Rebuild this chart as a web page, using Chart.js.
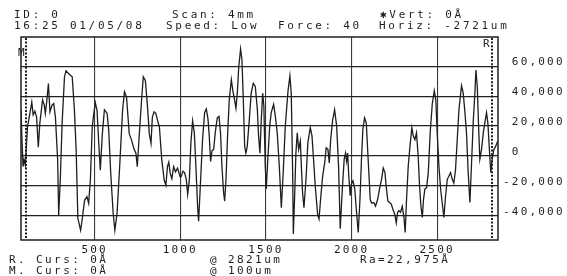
<!DOCTYPE html>
<html>
<head>
<meta charset="utf-8">
<script src="https://cdn.jsdelivr.net/npm/chart.js@4.4.0/dist/chart.umd.min.js"></script>
<style>
    html, body { margin: 0; padding: 0; background: #fff; }
</style>
</head>
<body>
<canvas id="profile" width="567" height="276"></canvas>
<script>
// Stylus profile trace: scan position (um) and height (Angstrom)
const scanX = [
    70, 76, 82, 88, 95, 108, 122, 133, 141, 151, 161, 171,
    180, 196, 206, 212, 220, 230, 239, 251, 261, 271, 284, 290,
    300, 310, 324, 333, 353, 369, 382, 392, 402, 418, 427, 441,
    455, 465, 475, 486, 494, 504, 514, 524, 533, 545, 557, 573,
    582, 594, 608, 618, 631, 647, 663, 674, 686, 702, 716, 729,
    741, 749, 761, 774, 784, 796, 808, 819, 829, 837, 847, 857,
    867, 878, 892, 906, 916, 925, 933, 941, 951, 961, 972, 984,
    1000, 1006, 1016, 1025, 1035, 1043, 1053, 1062, 1072, 1082, 1091, 1101,
    1107, 1117, 1130, 1142, 1152, 1162, 1169, 1177, 1185, 1195, 1204, 1216,
    1226, 1235, 1243, 1253, 1259, 1267, 1276, 1286, 1298, 1307, 1317, 1325,
    1333, 1341, 1352, 1360, 1368, 1376, 1383, 1391, 1403, 1414, 1426, 1438,
    1450, 1457, 1465, 1473, 1481, 1488, 1496, 1502, 1512, 1522, 1531, 1545,
    1555, 1566, 1578, 1590, 1601, 1613, 1629, 1640, 1648, 1656, 1660, 1667,
    1675, 1683, 1691, 1701, 1706, 1714, 1722, 1734, 1745, 1759, 1769, 1778,
    1788, 1802, 1810, 1819, 1831, 1843, 1852, 1862, 1870, 1878, 1889, 1901,
    1913, 1924, 1934, 1946, 1957, 1965, 1971, 1977, 1984, 1992, 1998, 2008,
    2019, 2029, 2039, 2049, 2058, 2066, 2076, 2086, 2095, 2103, 2109, 2117,
    2130, 2140, 2152, 2163, 2175, 2185, 2195, 2202, 2212, 2222, 2232, 2241,
    2253, 2261, 2269, 2276, 2286, 2296, 2306, 2313, 2321, 2331, 2341, 2352,
    2360, 2370, 2379, 2389, 2397, 2405, 2413, 2420, 2428, 2438, 2448, 2459,
    2471, 2483, 2492, 2500, 2510, 2520, 2529, 2539, 2549, 2559, 2568, 2578,
    2588, 2597, 2607, 2617, 2627, 2642, 2652, 2662, 2671, 2681, 2691, 2700,
    2710, 2720, 2726, 2734, 2743, 2749, 2759, 2769, 2778, 2788, 2796, 2806,
    2813, 2821, 2831, 2841, 2853
];
const heightA = [
    31000, 10000, -7000, -2500, -6000, 19500, 28500, 36000, 27500, 30000, 26000, 6000,
    22000, 37500, 34000, 28500, 36000, 48500, 29500, 34000, 35000, 26000, -2500, -39500,
    -14000, 22000, 53000, 57000, 54500, 53000, 30500, 4000, -41500, -49500, -42500, -29500,
    -27000, -31500, -16000, 19500, 27500, 35500, 30500, 8500, -9500, 15000, 31000, 28500,
    17500, -11500, -38000, -49500, -38000, -5000, 30500, 43000, 39500, 15000, 10500, 5000,
    2000, -7000, 15000, 37500, 53000, 50500, 34000, 15000, 8500, 26000, 29500, 28500,
    24000, 19500, -2500, -16000, -19500, -7000, -4000, -11500, -15000, -7000, -10500, -8000,
    -14000, -13500, -10000, -11000, -15500, -25500, -15500, 9000, 23500, 15500, -6500, -33500,
    -43500, -20000, 11000, 29000, 31500, 24500, 13500, -3500, 3500, 4500, 15500, 25500,
    26500, 15500, -6500, -24500, -30000, -15500, 13500, 37500, 51000, 43500, 37500, 32000,
    42000, 59000, 71500, 64500, 37500, 6500, 2000, 6500, 24500, 42000, 48500, 46500,
    31000, 13500, 2000, 24500, 42000, 33500, -6500, -22000, 0, 20000, 29000, 34500,
    26500, 15500, -6500, -34500, -11000, 20000, 43500, 53500, 42000, -11000, -52000, -29000,
    2000, 15500, 4500, 10000, -4500, -24500, -34500, -15500, 9000, 19000, 13500, -2000,
    -20000, -39000, -42000, -29000, -13500, -4500, 5500, 4500, -4500, 11000, 23500, 31000,
    20000, -6500, -48500, -22000, -2000, 2000, -3500, 2000, -13500, -26500, -19000, -16500,
    -22000, -37500, -51000, -29000, -2000, 18000, 25500, 22000, 2000, -15500, -29000, -31500,
    -31000, -33500, -29000, -22000, -15500, -8000, -11000, -20000, -30000, -31000, -32000, -35500,
    -39000, -44500, -37500, -36500, -37500, -33500, -41000, -51000, -29000, -6500, 6500, 19000,
    13500, 11000, 15500, 0, -20000, -33500, -41000, -29000, -22000, -21000, -11000, 15500,
    34500, 43500, 37500, 15500, -6500, -22000, -31000, -41000, -26500, -15500, -13500, -11000,
    -15500, -18000, -9000, 11000, 31000, 47000, 42000, 29000, 15500, -11000, -31000, -6500,
    22000, 42000, 57500, 46500, 15500, -2000, 4500, 15500, 22000, 29000, 22000, 2000,
    -11000, -2000, 4500, 6500, 10000
];

const xTicks = [500, 1000, 1500, 2000, 2500];
const xTickLabels = ['500', '1000', '1500', '2000', '2500'];
const yTicks = [-40000, -20000, 0, 20000, 40000, 60000];
const yTickLabels = ['-40,000', '-20,000', ' 0', ' 20,000', ' 40,000', ' 60,000'];

// cursor positions (um)
const cursorM = 100;
const cursorR = 2821;

const headerLine1 = ['ID: 0', 'Scan: 4mm', '\u2731Vert: 0\u00c5'];
const headerLine2 = ['16:25 01/05/08', 'Speed: Low', 'Force: 40', 'Horiz: -2721um'];
const footerLine1 = ['R. Curs: 0\u00c5', '@ 2821um', 'Ra=22,975\u00c5'];
const footerLine2 = ['M. Curs: 0\u00c5', '@ 100um'];

const MONO = '11px "DejaVu Sans Mono", "Liberation Mono", monospace';
const INK = '#1e1e1e';

const printoutPlugin = {
    id: 'printout',
    beforeDraw(chart) {
        chart.ctx.letterSpacing = '2.2px';
    },
    afterDraw(chart) {
        const { ctx, chartArea: a, scales: { x } } = chart;
        ctx.save();

        // frame
        ctx.strokeStyle = INK;
        ctx.lineWidth = 1.5;
        ctx.strokeRect(a.left, a.top, a.right - a.left, a.bottom - a.top);

        // dotted cursor lines
        ctx.lineWidth = 2;
        ctx.setLineDash([2, 1.6]);
        [cursorM, cursorR].forEach(v => {
            const px = Math.round(x.getPixelForValue(v));
            ctx.beginPath();
            ctx.moveTo(px, a.top + 1);
            ctx.lineTo(px, a.bottom - 1);
            ctx.stroke();
        });
        ctx.setLineDash([]);

        ctx.fillStyle = INK;
        ctx.font = MONO;
        ctx.textBaseline = 'alphabetic';
        ctx.textAlign = 'left';

        // cursor letters
        ctx.letterSpacing = '0px';
        ctx.fillText('M', 18, 56);
        ctx.fillText('R', 483, 47);

        // header
        ctx.letterSpacing = '2.7px';
        const h1x = [14, 172, 380];
        headerLine1.forEach((t, i) => ctx.fillText(t, h1x[i], 18));
        const h2x = [14, 166, 278, 379];
        headerLine2.forEach((t, i) => ctx.fillText(t, h2x[i], 29));

        // footer
        ctx.letterSpacing = '2.4px';
        const f1x = [9, 210, 360];
        footerLine1.forEach((t, i) => ctx.fillText(t, f1x[i], 263));
        const f2x = [9, 210];
        footerLine2.forEach((t, i) => ctx.fillText(t, f2x[i], 274));

        ctx.restore();
        ctx.letterSpacing = '0px';
    }
};

const points = scanX.map((v, i) => ({ x: v, y: heightA[i] }));

new Chart(document.getElementById('profile'), {
    type: 'line',
    data: {
        datasets: [{
            data: points,
            borderColor: INK,
            borderWidth: 1.3,
            pointRadius: 0,
            tension: 0,
            fill: false
        }]
    },
    options: {
        responsive: false,
        animation: false,
        events: [],
        layout: { padding: { left: 21, top: 37, right: 0, bottom: 0 } },
        plugins: {
            legend: { display: false },
            tooltip: { enabled: false }
        },
        scales: {
            x: {
                type: 'linear',
                position: 'bottom',
                min: 70,
                max: 2855,
                afterBuildTicks: s => { s.ticks = xTicks.map(v => ({ value: v })); },
                afterFit: s => { s.height = 36; },
                grid: { color: '#3a3a3a', lineWidth: 1.1, drawTicks: false },
                border: { display: false },
                ticks: {
                    padding: 4,
                    color: INK,
                    font: { family: '"DejaVu Sans Mono", monospace', size: 11 },
                    maxRotation: 0,
                    autoSkip: false,
                    callback: v => xTickLabels[xTicks.indexOf(v)]
                }
            },
            y: {
                type: 'linear',
                position: 'right',
                min: -56000,
                max: 79500,
                afterBuildTicks: s => { s.ticks = yTicks.map(v => ({ value: v })); },
                afterFit: s => { s.width = 69; },
                grid: { color: '#222', lineWidth: 1.3, drawTicks: false },
                border: { display: false },
                ticks: {
                    padding: 5,
                    labelOffset: -4,
                    color: INK,
                    font: { family: '"DejaVu Sans Mono", monospace', size: 11 },
                    autoSkip: false,
                    callback: v => yTickLabels[yTicks.indexOf(v)]
                }
            }
        }
    },
    plugins: [printoutPlugin]
});
</script>
</body>
</html>
